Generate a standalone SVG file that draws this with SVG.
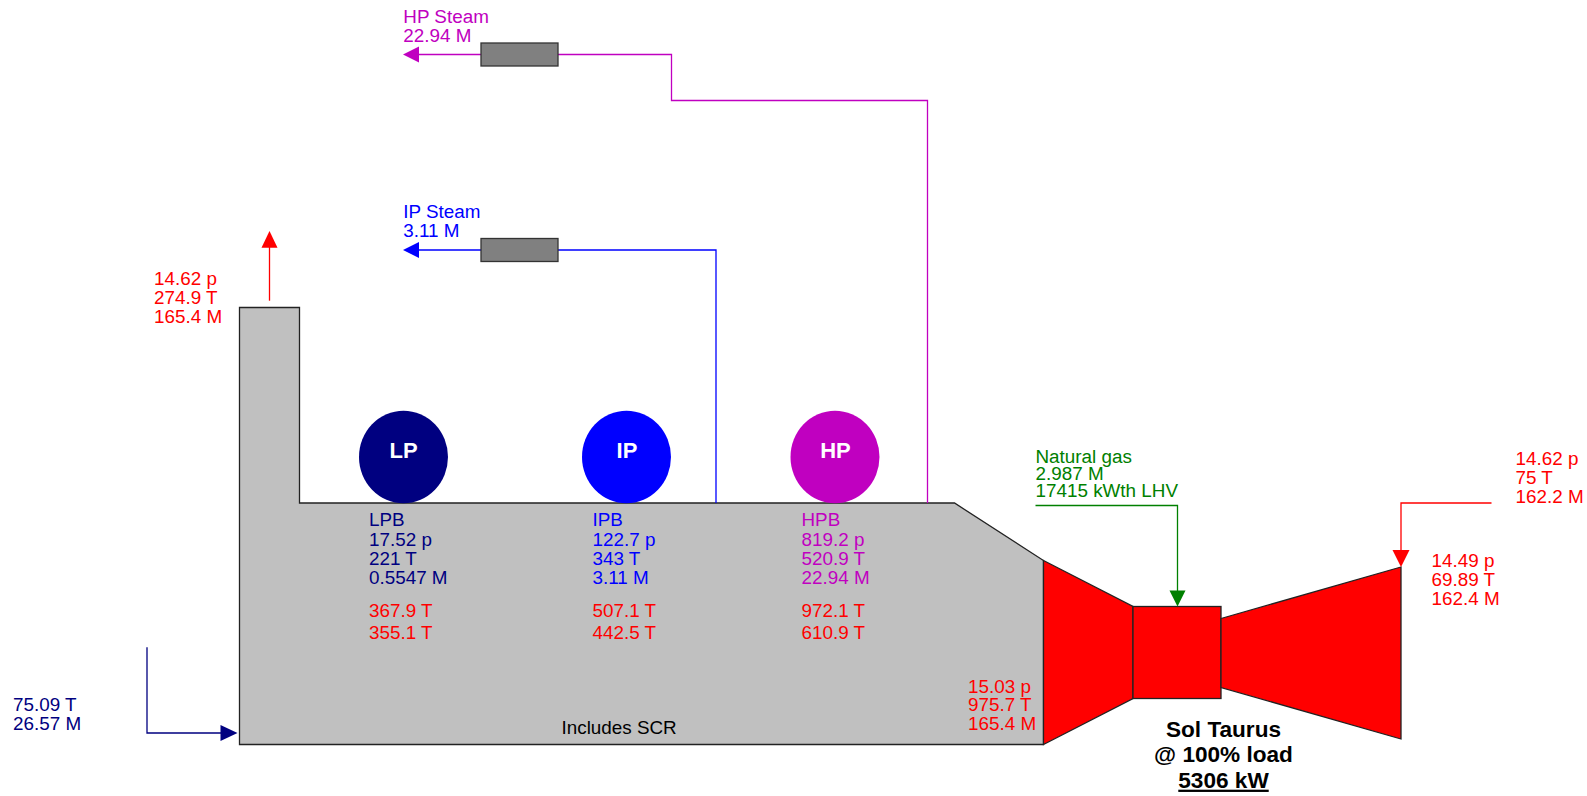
<svg xmlns="http://www.w3.org/2000/svg" width="1587" height="796" viewBox="0 0 1587 796">
<defs>
<style>
text{font-family:"Liberation Sans",Arial,sans-serif;font-size:18.85px}
.r{fill:#f00}.n{fill:#000080}.b{fill:#00f}.m{fill:#c000c0}.g{fill:#008000}.k{fill:#000}
.t{font-weight:bold;font-size:22.6px;text-anchor:middle}
.w{fill:#fff;font-weight:bold;font-size:22px;text-anchor:middle}
.l{fill:none;stroke-width:1.3}
.eq{stroke:#222;stroke-width:1.3}
.valve{fill:#808080;stroke:#333;stroke-width:1.3}
</style>
</defs>
<g id="hrsg">
<path class="eq" fill="#c0c0c0" d="M239.5 307.5H299.5V503H954.5L1043.500 560.5V744.5H239.5Z"/>
<text class="k" x="561.5" y="734">Includes SCR</text>
<text class="r" x="968" y="692.5">15.03 p</text>
<text class="r" x="968" y="711">975.7 T</text>
<text class="r" x="968" y="730">165.4 M</text>
</g>
<g id="gas-turbine">
<path class="eq" fill="#f00" d="M1043.500 560.5L1133 606.5V698.5L1043.500 744.5Z"/>
<rect class="eq" fill="#f00" x="1133" y="606.5" width="88" height="92"/>
<path class="eq" fill="#f00" d="M1221 618.500L1401 567V739L1221 687.500Z"/>
<text class="t" x="1223.500" y="736.700">Sol Taurus</text>
<text class="t" x="1223.500" y="761.700">@ 100% load</text>
<text class="t" x="1223.500" y="787.700" text-decoration="underline">5306 kW</text>
</g>
<g id="lp-drum">
<ellipse cx="403.500" cy="457" rx="44.500" ry="46.300" fill="#000080"/>
<text class="w" x="403.500" y="457.500">LP</text>
<text class="n" x="369" y="525.500">LPB</text>
<text class="n" x="369" y="546">17.52 p</text>
<text class="n" x="369" y="565">221 T</text>
<text class="n" x="369" y="584">0.5547 M</text>
<text class="r" x="369" y="616.700">367.9 T</text>
<text class="r" x="369" y="639">355.1 T</text>
</g>
<g id="ip-drum">
<ellipse cx="626.500" cy="457" rx="44.500" ry="46.300" fill="#00f"/>
<text class="w" x="627" y="457.500">IP</text>
<text class="b" x="592.500" y="525.500">IPB</text>
<text class="b" x="592.500" y="546">122.7 p</text>
<text class="b" x="592.500" y="565">343 T</text>
<text class="b" x="592.500" y="584">3.11 M</text>
<text class="r" x="592.500" y="616.700">507.1 T</text>
<text class="r" x="592.500" y="639">442.5 T</text>
</g>
<g id="hp-drum">
<ellipse cx="835" cy="457" rx="44.500" ry="46.300" fill="#c000c0"/>
<text class="w" x="835.500" y="457.500">HP</text>
<text class="m" x="801.500" y="525.500">HPB</text>
<text class="m" x="801.500" y="546">819.2 p</text>
<text class="m" x="801.500" y="565">520.9 T</text>
<text class="m" x="801.500" y="584">22.94 M</text>
<text class="r" x="801.500" y="616.700">972.1 T</text>
<text class="r" x="801.500" y="639">610.9 T</text>
</g>
<g id="connectors">
<path class="l" stroke="#c000c0" d="M927.500 503V100.500H671.500V54.500H415"/>
<path class="m" d="M403 54.500L419 46.500V62.500Z"/>
<path class="l" stroke="#00f" d="M716 503V250H415"/>
<path class="b" d="M403 250L419 242V258Z"/>
<path class="l" stroke="#f00" d="M269.500 300.700V245"/>
<path class="r" d="M269.500 231L277.500 247.700H261.500Z"/>
<path class="l" stroke="#000080" d="M147 647.300V733H224"/>
<path class="n" d="M237.500 733L220.500 725V741Z"/>
<path class="l" stroke="#008000" d="M1035.500 505.500H1177.500V592"/>
<path class="g" d="M1177.500 606.500L1169.500 590.500H1185.500Z"/>
<path class="l" stroke="#f00" d="M1491.500 503H1401V553"/>
<path class="r" d="M1401 567L1392.500 550H1409.500Z"/>
</g>
<g id="hp-valve">
<rect class="valve" x="481" y="43" width="77" height="23"/>
</g>
<g id="ip-valve">
<rect class="valve" x="481" y="238.500" width="77" height="23"/>
</g>
<g id="hp-steam-label">
<text class="m" x="403.300" y="22.700">HP Steam</text>
<text class="m" x="403.300" y="41.700">22.94 M</text>
</g>
<g id="ip-steam-label">
<text class="b" x="403.300" y="218">IP Steam</text>
<text class="b" x="403.300" y="237">3.11 M</text>
</g>
<g id="exhaust-label">
<text class="r" x="154" y="285">14.62 p</text>
<text class="r" x="154" y="304">274.9 T</text>
<text class="r" x="154" y="323">165.4 M</text>
</g>
<g id="duct-inlet-label">
<text class="n" x="13" y="710.700">75.09 T</text>
<text class="n" x="13" y="730">26.57 M</text>
</g>
<g id="fuel-label">
<text class="g" x="1035.500" y="463">Natural gas</text>
<text class="g" x="1035.500" y="480">2.987 M</text>
<text class="g" x="1035.500" y="497.300">17415 kWth LHV</text>
</g>
<g id="ambient-label">
<text class="r" x="1515.500" y="465.300">14.62 p</text>
<text class="r" x="1515.500" y="484">75 T</text>
<text class="r" x="1515.500" y="503.300">162.2 M</text>
</g>
<g id="inlet-label">
<text class="r" x="1431.500" y="567.300">14.49 p</text>
<text class="r" x="1431.500" y="585.500">69.89 T</text>
<text class="r" x="1431.500" y="605">162.4 M</text>
</g>
</svg>
